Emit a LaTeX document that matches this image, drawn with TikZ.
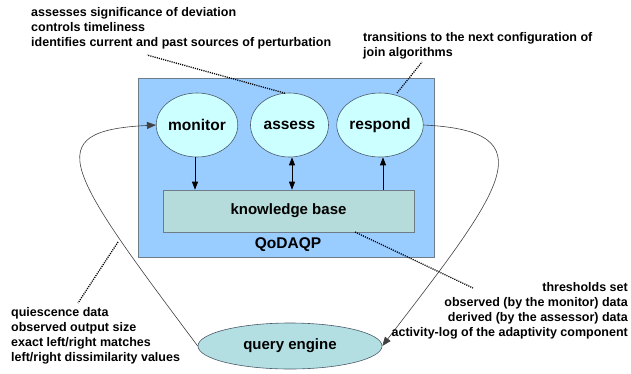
\documentclass[tikz,border=0pt]{standalone}
\usepackage{fontspec}
\setmainfont{Liberation Sans}
\usetikzlibrary{arrows.meta,shapes.geometric}
\definecolor{boxblue}{HTML}{99CCFF}
\definecolor{ellfill}{HTML}{CCFFFF}
\definecolor{kbfill}{HTML}{B5DCDA}
\definecolor{qefill}{HTML}{B3DFE3}
\definecolor{edge}{HTML}{4A5A6A}
\tikzset{
  ell/.style={ellipse, draw=edge, line width=0.6pt, fill=ellfill, minimum width=78pt, minimum height=64pt, inner sep=0pt, font=\fontsize{15.5}{18}\bfseries\selectfont},
  note/.style={inner sep=0pt, font=\fontsize{12.5}{15}\bfseries\selectfont},
  dots/.style={line width=1.3pt, dash pattern=on 1.1pt off 1.1pt},
  arr/.style={line width=0.7pt, -{Triangle[length=8pt,width=6pt]}},
  flow/.style={line width=0.6pt, draw=black!75, -{Triangle[length=9pt,width=7pt]}}
}
\begin{document}
\begin{tikzpicture}[x=1pt,y=-1pt]
\useasboundingbox (0,0) rectangle (631,373);
\node[draw=edge!80, line width=0.6pt, fill=boxblue, minimum width=296pt, minimum height=179pt, inner sep=0pt] (qod) at (286,167.5) {};
\node[font=\fontsize{15.5}{18}\bfseries\selectfont, inner sep=0pt] (qodlabel) at (288,245) {QoDAQP};
\node[ell] (mon) at (197,125) {monitor};
\node[ell] (ass) at (289.5,125) {assess};
\node[ell] (res) at (380,125) {respond};
\node[draw=edge!80, line width=0.6pt, fill=kbfill, minimum width=251pt, minimum height=42pt, inner sep=0pt, font=\fontsize{15}{18}\bfseries\selectfont] (kb) at (288.5,211) {knowledge base};
\node[ellipse, draw=edge, line width=0.6pt, fill=qefill, minimum width=184pt, minimum height=46pt, inner sep=0pt, font=\fontsize{15}{18}\bfseries\selectfont] (qe) at (290,346) {query engine};

\draw[arr] (mon.south -| 195,0) -- (kb.north -| 195,0);
\draw[arr, {Triangle[length=8pt,width=6pt]}-{Triangle[length=8pt,width=6pt]}] (ass.south -| 292,0) -- (kb.north -| 292,0);
\draw[arr] (kb.north -| 383,0) -- (res.south -| 383,0);

\draw[flow] (qe.west) .. controls (66,170) and (38,131) .. (mon.west);
\draw[flow] (res.east) .. controls (549,131) and (503,189) .. (qe.east);

\coordinate (lc) at (118,242);
\coordinate (kbd) at (355,232);
\node[note, align=left, anchor=west] (t1) at (31,28) {assesses significance of deviation\\controls timeliness\\identifies current and past sources of perturbation};
\node[note, align=left, anchor=west] (t2) at (363,45.5) {transitions to the next configuration of\\join algorithms};
\node[note, align=right, anchor=east] (t3) at (628,311) {thresholds set\\observed (by the monitor) data\\derived (by the assessor) data\\activity-log of the adaptivity component};
\node[note, align=left, anchor=west] (t4) at (11,336) {quiescence data\\observed output size\\exact left/right matches\\left/right dissimilarity values};
\coordinate (e1) at (147,55);
\coordinate (e2) at (422,62);
\coordinate (e3) at (473,288);
\coordinate (e4) at (78,303);
\draw[dots] (ass.north -| 285,0) ++(0,0.5) -- (e1);
\draw[dots] (397,93) -- (e2);
\draw[dots] (kbd) -- (e3);
\draw[dots] (lc) -- (e4);
\end{tikzpicture}
\end{document}
